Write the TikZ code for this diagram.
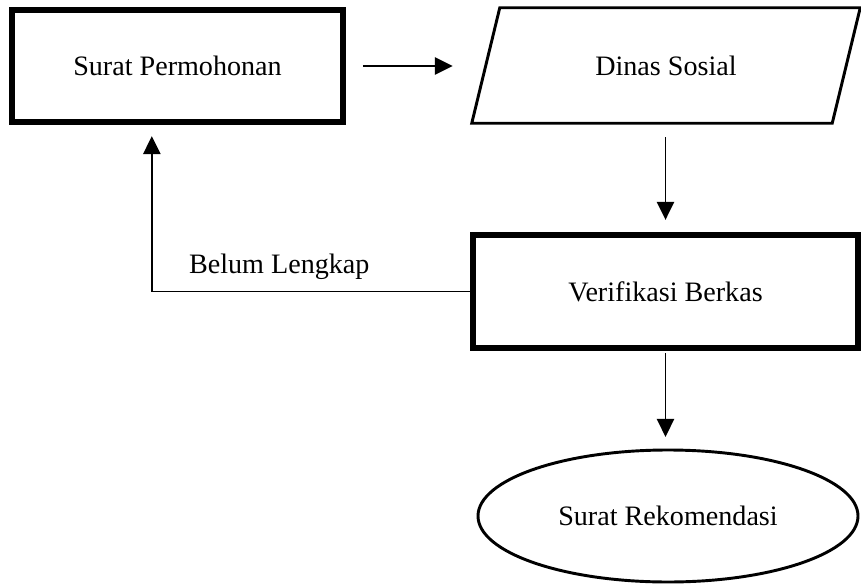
\documentclass[tikz,border=0pt]{standalone}
\usepackage{fontspec}
\setmainfont{Liberation Serif}
\usepackage{tikz}
\usetikzlibrary{arrows.meta, shapes.geometric}

\begin{document}
\begin{tikzpicture}[
    every node/.style={font=\fontsize{24}{29}\selectfont},
    boxnode/.style={rectangle,draw,line width=4.3pt,minimum width=#1,minimum height=3.36cm},
    datanode/.style={rectangle,minimum width=11.64cm,minimum height=3.45cm},
    endnode/.style={ellipse,draw,line width=2.5pt,minimum width=11.4cm,minimum height=3.96cm},
    flow/.style={line width=1.5pt,-{Triangle[length=0.54cm,width=0.52cm]}}
]
\useasboundingbox (0,0) rectangle (25.83,-17.55);

\node[boxnode=9.93cm] (perm) at (5.325,-1.98) {Surat Permohonan};
\node[datanode] (dinas) at (19.98,-1.965) {Dinas Sosial};
\node[boxnode=11.55cm,minimum height=3.39cm] (verif) at (19.965,-8.745) {Verifikasi Berkas};
\node[endnode] (rekom) at (20.04,-15.48) {Surat Rekomendasi};

% parallelogram round the data node
\draw[line width=2.5pt, line join=miter] ([xshift=0.84cm]dinas.north west) -- (dinas.north east)
    -- ([xshift=-0.84cm]dinas.south east) -- (dinas.south west) -- cycle;

\draw[flow, shorten <=0.52cm, shorten >=0.57cm] (perm.east) -- (perm.east -| dinas.west);
\draw[flow, shorten <=0.42cm, shorten >=0.38cm] (dinas.south -| verif.north) -- (verif.north);
\draw[flow, shorten <=0.08cm, shorten >=0.35cm] (verif.south) -- (verif.south |- rekom.north);
\draw[flow, shorten >=0.35cm] (verif.west) -| ([xshift=-0.77cm]perm.south)
    node[above=0.22cm, pos=0.3] (belum) {Belum Lengkap};

\end{tikzpicture}
\end{document}
